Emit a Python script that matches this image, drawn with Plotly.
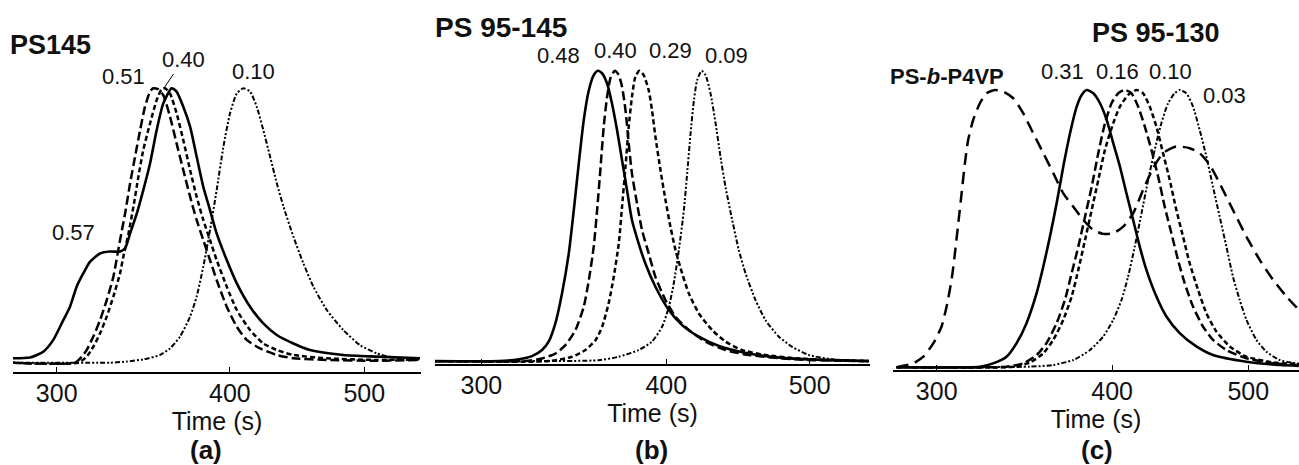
import plotly.graph_objects as go

W, H = 1299, 465
FONT = "Liberation Sans, Arial, sans-serif"

# ---------------- data: panel (a) PS145 ----------------
A_T_057 = [277.6, 287.0, 293.4, 298.3, 303.3, 306.7, 310.1, 313.6, 317.1, 322.4, 327.7, 333.3, 336.1, 338.9, 342.7, 346.4, 350.3, 354.2, 358.1, 363.1, 366.1, 370.2, 374.4, 378.5, 382.7, 387.0, 391.3, 397.9, 404.6, 413.6, 422.8, 432.4, 444.5, 456.9, 482.9, 510.5, 548.4]
A_Y_057 = [0.016, 0.019, 0.040, 0.083, 0.155, 0.204, 0.277, 0.326, 0.368, 0.398, 0.405, 0.405, 0.417, 0.471, 0.544, 0.629, 0.726, 0.848, 0.945, 1.0, 0.988, 0.933, 0.860, 0.751, 0.641, 0.556, 0.471, 0.374, 0.289, 0.204, 0.143, 0.101, 0.070, 0.046, 0.028, 0.022, 0.016]
A_T_051 = [277.6, 309.3, 312.7, 315.3, 318.8, 322.4, 326.0, 329.6, 333.3, 336.1, 338.9, 341.7, 344.6, 347.4, 350.3, 352.2, 355.2, 358.1, 362.1, 366.1, 370.2, 374.4, 378.5, 382.7, 387.0, 391.3, 397.9, 404.6, 411.3, 420.5, 432.4, 444.5, 469.8, 510.5, 548.4]
A_Y_051 = [0, 0, 0.022, 0.046, 0.095, 0.155, 0.228, 0.313, 0.447, 0.544, 0.654, 0.751, 0.848, 0.933, 0.988, 1.0, 0.996, 0.975, 0.897, 0.799, 0.702, 0.605, 0.520, 0.447, 0.374, 0.301, 0.204, 0.131, 0.083, 0.052, 0.028, 0.016, 0.010, 0.007, 0.010]
A_T_040 = [277.6, 311.0, 315.3, 318.8, 322.4, 326.0, 329.6, 333.3, 335.1, 338.0, 340.8, 343.6, 346.4, 350.3, 354.2, 357.1, 359.1, 362.1, 366.1, 370.2, 374.4, 378.5, 382.7, 387.0, 391.3, 397.9, 404.6, 413.6, 422.8, 432.4, 444.5, 469.8, 510.5, 548.4]
A_Y_040 = [0, 0, 0.022, 0.058, 0.107, 0.168, 0.241, 0.326, 0.386, 0.471, 0.569, 0.678, 0.775, 0.872, 0.957, 0.996, 1.0, 0.981, 0.909, 0.811, 0.702, 0.605, 0.520, 0.447, 0.374, 0.277, 0.192, 0.119, 0.070, 0.046, 0.028, 0.016, 0.010, 0.012]
A_T_010 = [277.6, 327.7, 337.0, 346.4, 356.1, 362.1, 368.2, 374.4, 378.5, 382.7, 387.0, 391.3, 395.7, 400.1, 404.6, 409.0, 413.6, 418.2, 422.8, 427.6, 432.4, 437.2, 444.5, 451.9, 459.5, 469.8, 482.9, 496.5, 510.5, 524.6, 548.4]
A_Y_010 = [0, 0, 0.004, 0.012, 0.028, 0.052, 0.095, 0.168, 0.241, 0.350, 0.483, 0.629, 0.787, 0.909, 0.981, 1.0, 0.988, 0.933, 0.848, 0.751, 0.654, 0.569, 0.459, 0.362, 0.277, 0.192, 0.119, 0.064, 0.034, 0.019, 0.016]

# ---------------- data: panel (b) PS 95-145 ----------------
B_T_048 = [277.9, 308.3, 318.0, 324.6, 329.7, 333.1, 336.6, 340.1, 343.7, 346.4, 349.1, 351.8, 354.6, 357.3, 359.6, 362.0, 364.8, 367.6, 370.5, 373.4, 376.3, 379.2, 383.2, 387.2, 393.3, 401.6, 410.0, 420.8, 434.2, 454.8, 479.1, 504.6, 548.2]
B_Y_048 = [0, 0, 0.006, 0.017, 0.038, 0.067, 0.130, 0.233, 0.371, 0.520, 0.681, 0.830, 0.933, 0.985, 1.0, 0.991, 0.956, 0.887, 0.796, 0.692, 0.589, 0.486, 0.405, 0.336, 0.256, 0.176, 0.124, 0.084, 0.052, 0.026, 0.011, 0.005, 0]
B_T_040 = [277.9, 321.3, 329.7, 336.6, 341.9, 347.3, 351.8, 354.6, 357.3, 359.2, 361.0, 362.9, 364.8, 366.7, 369.2, 371.5, 373.4, 375.4, 377.3, 379.2, 382.2, 385.2, 389.2, 393.3, 399.5, 405.8, 414.3, 425.2, 438.6, 454.8, 479.1, 504.6, 548.2]
B_Y_040 = [0, 0, 0.009, 0.026, 0.055, 0.107, 0.187, 0.279, 0.394, 0.520, 0.658, 0.807, 0.910, 0.974, 1.0, 0.985, 0.945, 0.865, 0.750, 0.646, 0.543, 0.451, 0.371, 0.290, 0.210, 0.153, 0.107, 0.067, 0.038, 0.021, 0.009, 0.003, 0]
B_T_029 = [277.9, 333.1, 345.5, 352.7, 358.3, 362.0, 365.7, 368.6, 371.5, 373.4, 375.4, 377.3, 379.2, 381.2, 383.6, 386.2, 389.2, 391.2, 393.3, 396.4, 399.5, 402.6, 405.8, 410.0, 414.3, 420.8, 429.6, 438.6, 450.1, 466.8, 491.7, 517.8, 548.2]
B_Y_029 = [0, 0, 0.015, 0.038, 0.072, 0.118, 0.199, 0.290, 0.405, 0.532, 0.669, 0.807, 0.910, 0.979, 1.0, 0.985, 0.933, 0.865, 0.773, 0.658, 0.555, 0.463, 0.382, 0.302, 0.233, 0.164, 0.107, 0.067, 0.038, 0.021, 0.009, 0.003, 0]
B_T_009 = [277.9, 324.6, 360.1, 371.5, 383.2, 391.2, 397.4, 401.6, 404.7, 407.9, 411.1, 413.2, 415.4, 417.6, 419.7, 422.6, 425.2, 428.5, 431.9, 435.2, 438.6, 443.2, 447.8, 452.5, 459.6, 466.8, 476.6, 486.6, 499.4, 517.8, 548.2]
B_Y_009 = [0, 0, 0.003, 0.015, 0.038, 0.067, 0.118, 0.187, 0.268, 0.382, 0.520, 0.646, 0.784, 0.899, 0.968, 1.0, 0.985, 0.922, 0.819, 0.704, 0.600, 0.486, 0.382, 0.302, 0.210, 0.141, 0.084, 0.049, 0.021, 0.006, 0]

# ---------------- data: panel (c) PS 95-130 ----------------
C_T_BCP = [280.9, 288.7, 293.5, 298.4, 302.4, 304.9, 307.4, 309.1, 310.8, 312.5, 314.2, 315.9, 318.5, 322.0, 325.5, 330.0, 334.5, 340.1, 345.7, 351.4, 357.3, 363.2, 369.2, 375.3, 381.5, 387.8, 394.2, 400.7, 407.3, 414.0, 420.8, 427.8, 434.8, 444.4, 454.2, 461.7, 469.3, 477.1, 487.6, 498.5, 509.5, 520.8, 532.3, 543.2]
C_Y_BCP = [0, 0.014, 0.038, 0.087, 0.147, 0.219, 0.315, 0.411, 0.519, 0.627, 0.736, 0.820, 0.892, 0.952, 0.988, 1.0, 0.994, 0.970, 0.916, 0.844, 0.772, 0.700, 0.627, 0.579, 0.531, 0.495, 0.481, 0.483, 0.507, 0.555, 0.639, 0.718, 0.772, 0.796, 0.790, 0.772, 0.730, 0.663, 0.567, 0.471, 0.387, 0.315, 0.255, 0.207]
C_T_031 = [280.9, 322.0, 329.1, 336.4, 342.0, 347.6, 353.4, 357.3, 361.2, 365.2, 369.2, 373.3, 377.4, 380.5, 383.6, 387.8, 392.1, 396.4, 400.7, 405.1, 409.5, 414.0, 418.5, 423.1, 430.1, 437.2, 446.8, 459.2, 471.9, 498.5, 526.5, 543.2]
C_Y_031 = [0, 0.002, 0.014, 0.038, 0.087, 0.159, 0.267, 0.363, 0.471, 0.591, 0.724, 0.844, 0.940, 0.982, 1.0, 0.988, 0.952, 0.892, 0.808, 0.724, 0.627, 0.531, 0.435, 0.351, 0.255, 0.183, 0.123, 0.075, 0.044, 0.020, 0.008, 0.005]
C_T_016 = [280.9, 336.4, 345.7, 353.4, 359.2, 365.2, 370.2, 374.3, 378.4, 382.6, 386.8, 391.0, 395.3, 399.6, 404.0, 408.4, 412.9, 417.4, 422.0, 426.6, 431.3, 436.0, 440.8, 445.6, 450.5, 456.7, 464.2, 471.9, 482.4, 498.5, 520.8, 543.2]
C_Y_016 = [0, 0.002, 0.014, 0.044, 0.087, 0.159, 0.243, 0.339, 0.435, 0.543, 0.651, 0.772, 0.880, 0.952, 0.988, 1.0, 0.988, 0.940, 0.868, 0.784, 0.688, 0.579, 0.483, 0.387, 0.303, 0.219, 0.147, 0.099, 0.062, 0.032, 0.014, 0.008]
C_T_010 = [280.9, 340.1, 349.5, 357.3, 363.2, 369.2, 374.3, 378.4, 382.6, 386.8, 391.0, 395.3, 400.7, 405.1, 410.6, 416.3, 420.8, 425.4, 430.1, 434.8, 439.6, 444.4, 449.3, 454.2, 460.5, 466.8, 474.5, 485.0, 498.5, 520.8, 543.2]
C_Y_010 = [0, 0.002, 0.017, 0.050, 0.099, 0.171, 0.255, 0.351, 0.459, 0.567, 0.675, 0.784, 0.880, 0.940, 0.982, 1.0, 0.988, 0.940, 0.868, 0.772, 0.675, 0.567, 0.471, 0.375, 0.279, 0.195, 0.129, 0.075, 0.038, 0.017, 0.012]
C_T_003 = [280.9, 349.5, 363.2, 375.3, 385.7, 394.2, 400.7, 406.2, 410.6, 415.1, 419.7, 424.3, 428.9, 433.6, 438.4, 443.2, 446.8, 451.7, 456.7, 461.7, 466.8, 471.9, 477.1, 482.4, 487.6, 493.0, 498.5, 506.7, 515.1, 526.5, 543.2]
C_Y_003 = [0, 0.002, 0.008, 0.026, 0.062, 0.111, 0.171, 0.243, 0.327, 0.435, 0.555, 0.675, 0.784, 0.880, 0.952, 0.988, 1.0, 0.988, 0.940, 0.856, 0.760, 0.651, 0.543, 0.435, 0.327, 0.243, 0.171, 0.099, 0.056, 0.026, 0.012]

TICK_VALS = [300, 400, 500]
X_TITLE = "Time (s)"
PANEL_TITLES = ["PS145", "PS 95-145", "PS 95-130"]
PANEL_TAGS = ["(a)", "(b)", "(c)"]

# line styles
SOLID = dict(color="black", width=2.6)
LONG = dict(color="black", width=2.5, dash="9px,4px")
SHORT = dict(color="black", width=2.5, dash="5px,3px")
DDOT = dict(color="black", width=2.0, dash="5px,2px,2px,2px,2px,2px")
BIG = dict(color="black", width=2.5, dash="12px,7px")


def X(px):
    return px / W


def Y(py):
    return 1 - py / H


fig = go.Figure()


def add(t, y, style, ax):
    fig.add_trace(go.Scatter(
        x=t, y=y, mode="lines", line=dict(shape="spline", smoothing=0.6, **style),
        xaxis="x" + ax, yaxis="y" + ax, showlegend=False, hoverinfo="skip"))


add(A_T_010, A_Y_010, DDOT, "")
add(A_T_040, A_Y_040, SHORT, "")
add(A_T_051, A_Y_051, LONG, "")
add(A_T_057, A_Y_057, SOLID, "")

add(B_T_009, B_Y_009, DDOT, "2")
add(B_T_029, B_Y_029, SHORT, "2")
add(B_T_040, B_Y_040, LONG, "2")
add(B_T_048, B_Y_048, SOLID, "2")

add(C_T_003, C_Y_003, DDOT, "3")
add(C_T_010, C_Y_010, SHORT, "3")
add(C_T_016, C_Y_016, LONG, "3")
add(C_T_BCP, C_Y_BCP, BIG, "3")
add(C_T_031, C_Y_031, SOLID, "3")


def xaxis(dom, rng, anchor):
    return dict(
        type="log", domain=dom, range=rng, anchor=anchor,
        tickvals=TICK_VALS, ticktext=[str(v) for v in TICK_VALS],
        showgrid=False, zeroline=False, showline=True, linecolor="black", linewidth=1.6,
        ticks="inside", ticklen=5, tickcolor="black", tickwidth=1,
        ticklabelstandoff=-2,
        tickfont=dict(family=FONT, size=25, color="#111"),
        title=dict(text=X_TITLE, font=dict(family=FONT, size=25, color="#111"), standoff=4),
    )


def yaxis(dom, rng, anchor):
    return dict(domain=dom, range=rng, anchor=anchor, visible=False, showgrid=False, zeroline=False)


fig.update_layout(
    width=W, height=H, margin=dict(l=0, r=0, t=0, b=0),
    paper_bgcolor="white", plot_bgcolor="white",
    xaxis=xaxis([X(13), X(421)], [2.4456, 2.7399], "y"),
    yaxis=yaxis([Y(372), Y(60)], [-0.034, 1.103], "x"),
    xaxis2=xaxis([X(435), X(870)], [2.4458, 2.7397], "y2"),
    yaxis2=yaxis([Y(364), Y(40)], [-0.010, 1.106], "x2"),
    xaxis3=xaxis([X(893), X(1299)], [2.4460, 2.7351], "y3"),
    yaxis3=yaxis([Y(370), Y(60)], [-0.010, 1.108], "x3"),
)

anns = []


def txt(text, px, py, size=22, bold=False, xanchor="center"):
    if bold:
        text = "<b>" + text + "</b>"
    anns.append(dict(text=text, x=X(px), y=Y(py), xref="paper", yref="paper",
                     xanchor=xanchor, yanchor="middle", showarrow=False,
                     font=dict(family=FONT, size=size, color="#111")))


# panel titles
txt(PANEL_TITLES[0], 8, 45, size=27, bold=True, xanchor="left")
txt(PANEL_TITLES[1], 433, 27, size=28, bold=True, xanchor="left")
txt(PANEL_TITLES[2], 1156, 33, size=27, bold=True)
txt("PS-<i>b</i>-P4VP", 947, 77, size=22, bold=True)

# composition labels
txt("0.51", 123, 76)
txt("0.10", 253, 72)
txt("0.57", 73, 232)
anns.append(dict(text="0.40", x=X(164), y=Y(88), xref="paper", yref="paper",
                 ax=19, ay=-28, showarrow=True, arrowhead=0, arrowwidth=1, arrowcolor="black",
                 standoff=0, font=dict(family=FONT, size=22, color="#111")))

txt("0.48", 558, 55)
txt("0.40", 615, 50)
txt("0.29", 670, 50)
txt("0.09", 727, 55)

txt("0.31", 1062, 72)
txt("0.16", 1117, 72)
txt("0.10", 1170, 72)
txt("0.03", 1224, 96)

# panel tags
txt(PANEL_TAGS[0], 206, 450, size=26, bold=True)
txt(PANEL_TAGS[1], 651, 450, size=26, bold=True)
txt(PANEL_TAGS[2], 1097, 450, size=26, bold=True)

fig.update_layout(annotations=anns)
fig.write_html("out.html", config={"displayModeBar": False},
               post_script="document.body.style.margin='0';")
